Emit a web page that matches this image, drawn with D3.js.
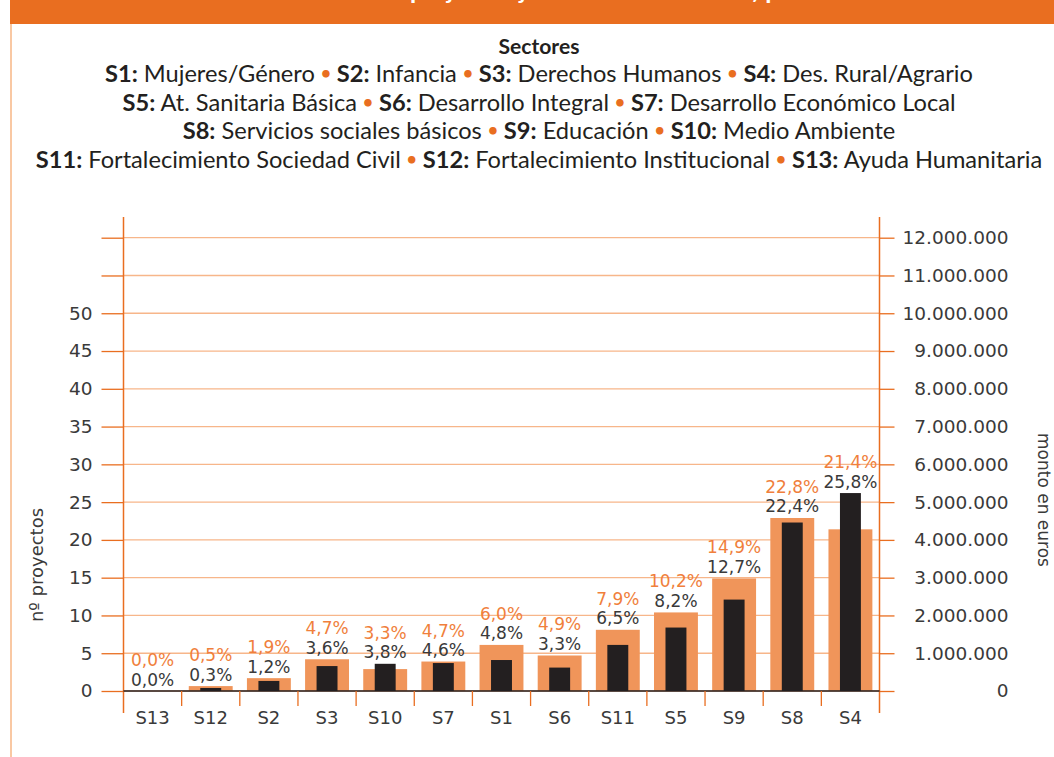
<!DOCTYPE html>
<html>
<head>
<meta charset="utf-8">
<script src="https://cdn.jsdelivr.net/npm/d3@7"></script>
<style>
  body { margin: 0; background: #fff; }
  svg { display: block; }
</style>
</head>
<body>
<div id="chart"></div>
<script>
const width = 1054
const height = 757

// datos
const sectores = ["S13", "S12", "S2", "S3", "S10", "S7", "S1", "S6", "S11", "S5", "S9", "S8", "S4"]
const proyectos = [0, 0.65, 1.7, 4.2, 2.9, 3.9, 6.1, 4.7, 8.1, 10.4, 14.9, 22.9, 21.4]
const monto = [0, 80000, 266000, 660000, 720000, 740000, 820000, 620000, 1220000, 1680000, 2420000, 4460000, 5240000]
const pctProyectos = ["0,0%", "0,5%", "1,9%", "4,7%", "3,3%", "4,7%", "6,0%", "4,9%", "7,9%", "10,2%", "14,9%", "22,8%", "21,4%"]
const pctMonto = ["0,0%", "0,3%", "1,2%", "3,6%", "3,8%", "4,6%", "4,8%", "3,3%", "6,5%", "8,2%", "12,7%", "22,4%", "25,8%"]
const leftTicks = [0, 5, 10, 15, 20, 25, 30, 35, 40, 45, 50, 55, 60]
const leftLabelMax = 50
const rightTicks = [0, 1e6, 2e6, 3e6, 4e6, 5e6, 6e6, 7e6, 8e6, 9e6, 10e6, 11e6, 12e6]

const legendTitle = "Sectores"
const legendRows = [
    [["S1", "Mujeres/Género"], ["S2", "Infancia"], ["S3", "Derechos Humanos"], ["S4", "Des. Rural/Agrario"]],
    [["S5", "At. Sanitaria Básica"], ["S6", "Desarrollo Integral"], ["S7", "Desarrollo Económico Local"]],
    [["S8", "Servicios sociales básicos"], ["S9", "Educación"], ["S10", "Medio Ambiente"]],
    [["S11", "Fortalecimiento Sociedad Civil"], ["S12", "Fortalecimiento Institucional"], ["S13", "Ayuda Humanitaria"]]
]
const titulo = "Gráfico 6: Número de proyectos y monto desembolsado, por sectores"

const orange = "#e96e20"
const barOrange = "#f0955a"
const gridColor = "#f7b68a"
const dark = "#231f20"
const textColor = "#3a3a3a"
const chartFont = "'DejaVu Sans', sans-serif"

const plot = { left: 123.5, right: 879.5, top: 237.7, bottom: 691 }

const svg = d3.select("div#chart").append("svg").attr("width", width).attr("height", height)
svg.append("rect").attr("width", width).attr("height", height).attr("fill", "#fff")

// banda de titulo (cortada arriba)
svg.append("rect").attr("x", 10).attr("y", 0).attr("width", width - 10).attr("height", 24).attr("fill", orange)
svg.append("text").attr("x", 540).attr("y", -1.5).attr("text-anchor", "middle")
    .attr("fill", "#fff").attr("font-family", chartFont).attr("font-weight", "bold").attr("font-size", 18)
    .text(titulo)
svg.append("rect").attr("x", 10).attr("y", 24).attr("width", 2).attr("height", height - 24).attr("fill", "#f9c8a3")

// leyenda de sectores
const legendGroup = svg.append("g").attr("class", "legend")
const legendFont = "Lato, sans-serif"
const rowBaselines = [82, 110.5, 139, 167.5]

const titleRow = legendGroup.append("g").attr("transform", "translate(539, 53.5)")
titleRow.append("text").attr("text-anchor", "middle").attr("font-family", legendFont)
    .attr("font-weight", "bold").attr("font-size", 21).attr("fill", dark).text(legendTitle)

const rows = legendRows.map((row, i) => {
    const g = legendGroup.append("g").attr("transform", `translate(539, ${rowBaselines[i]})`)
    const t = g.append("text").attr("text-anchor", "middle").attr("font-family", legendFont)
        .attr("font-size", 23.5).attr("fill", dark)
    row.forEach((d, j) => {
        if (j > 0) {
            t.append("tspan").text(" ")
            t.append("tspan").attr("fill", orange).attr("font-size", 17).attr("font-weight", "bold")
                .attr("dy", -3).text("•")
            t.append("tspan").attr("dy", 3).text(" ")
        }
        t.append("tspan").attr("font-weight", "bold").text(d[0] + ":")
        t.append("tspan").text(" " + d[1])
    })
    return g
})
// fuente condensada: se comprime en horizontal
const widest = rows[3].select("text").node().getComputedTextLength()
const k = 1007 / widest
rows.forEach((g, i) => g.attr("transform", `translate(539, ${rowBaselines[i]}) scale(${k}, 1)`))
titleRow.attr("transform", `translate(539, 53.5) scale(${k}, 1)`)

// escalas
const x = d3.scaleBand().domain(sectores).range([plot.left, plot.right]).padding(0)
const yLeft = d3.scaleLinear().domain([0, 60]).range([plot.bottom, plot.top])
const yRight = d3.scaleLinear().domain([0, 12e6]).range([plot.bottom, plot.top])

const es = d3.formatLocale({ decimal: ",", thousands: ".", grouping: [3], currency: ["", "€"] })
const fmtMonto = es.format(",")

// rejilla
svg.append("g").attr("class", "grid").selectAll("line").data(rightTicks).join("line")
    .attr("x1", plot.left).attr("x2", plot.right)
    .attr("y1", d => yRight(d)).attr("y2", d => yRight(d))
    .attr("stroke", gridColor).attr("stroke-width", 1.3)

// ejes
const yAxisLeft = d3.axisLeft(yLeft).tickValues(leftTicks).tickSize(22).tickPadding(9)
    .tickFormat(d => d <= leftLabelMax ? d : "")
const yAxisRight = d3.axisRight(yRight).tickValues(rightTicks).tickSize(15).tickFormat(fmtMonto)

const leftGroup = svg.append("g").attr("transform", `translate(${plot.left}, 0)`).call(yAxisLeft)
const rightGroup = svg.append("g").attr("transform", `translate(${plot.right}, 0)`).call(yAxisRight)
;[leftGroup, rightGroup].forEach(g => {
    g.select(".domain").remove()
    g.selectAll(".tick line").attr("stroke", orange).attr("stroke-width", 1.3)
    g.selectAll(".tick text").attr("fill", textColor).attr("font-family", chartFont).attr("font-size", 18.5)
})
rightGroup.selectAll(".tick text").attr("text-anchor", "end").attr("x", 129)

// lineas verticales de los ejes
svg.append("g").selectAll("line").data([plot.left, plot.right]).join("line")
    .attr("x1", d => d).attr("x2", d => d).attr("y1", 217).attr("y2", 713)
    .attr("stroke", orange).attr("stroke-width", 1.5)

// barras
const bw = x.bandwidth()
const bars = svg.append("g").attr("class", "bars")
bars.selectAll("rect.proy").data(sectores).join("rect").attr("class", "proy")
    .attr("x", (d, i) => x(d) + bw * (1 - 0.755) / 2)
    .attr("width", bw * 0.755)
    .attr("y", (d, i) => yLeft(proyectos[i]))
    .attr("height", (d, i) => plot.bottom - yLeft(proyectos[i]))
    .attr("fill", barOrange)
bars.selectAll("rect.monto").data(sectores).join("rect").attr("class", "monto")
    .attr("x", (d, i) => x(d) + bw * (1 - 0.36) / 2)
    .attr("width", bw * 0.36)
    .attr("y", (d, i) => yRight(monto[i]))
    .attr("height", (d, i) => plot.bottom - yRight(monto[i]))
    .attr("fill", dark)

// linea base y marcas de categoria
svg.append("line").attr("x1", plot.left).attr("x2", plot.right).attr("y1", plot.bottom).attr("y2", plot.bottom)
    .attr("stroke", dark).attr("stroke-width", 1.5)
svg.append("g").selectAll("line").data(sectores.slice(1)).join("line")
    .attr("x1", d => x(d)).attr("x2", d => x(d)).attr("y1", plot.bottom).attr("y2", 706)
    .attr("stroke", orange).attr("stroke-width", 1.3)

svg.append("g").selectAll("text").data(sectores).join("text")
    .attr("x", d => x(d) + bw / 2).attr("y", 724).attr("text-anchor", "middle")
    .attr("font-family", chartFont).attr("font-size", 18).attr("fill", textColor)
    .text(d => d)

// etiquetas de porcentaje
const labels = svg.append("g").attr("class", "labels")
const topOf = i => Math.min(yLeft(proyectos[i]), yRight(monto[i]))
labels.selectAll("text.pm").data(sectores).join("text").attr("class", "pm")
    .attr("x", d => x(d) + bw / 2).attr("y", (d, i) => topOf(i) - 5.5)
    .attr("text-anchor", "middle").attr("font-family", chartFont).attr("font-size", 17)
    .attr("fill", textColor).text((d, i) => pctMonto[i])
labels.selectAll("text.pp").data(sectores).join("text").attr("class", "pp")
    .attr("x", d => x(d) + bw / 2).attr("y", (d, i) => topOf(i) - 25)
    .attr("text-anchor", "middle").attr("font-family", chartFont).attr("font-size", 17)
    .attr("fill", "#f07f3c").text((d, i) => pctProyectos[i])

// titulos de ejes
svg.append("text").attr("transform", "translate(43, 565) rotate(-90)").attr("text-anchor", "middle")
    .attr("font-family", chartFont).attr("font-size", 18).attr("fill", textColor).text("nº proyectos")
svg.append("text").attr("transform", "translate(1038, 500) rotate(90)").attr("text-anchor", "middle")
    .attr("font-family", chartFont).attr("font-size", 17).attr("fill", textColor).text("monto en euros")
</script>
</body>
</html>
